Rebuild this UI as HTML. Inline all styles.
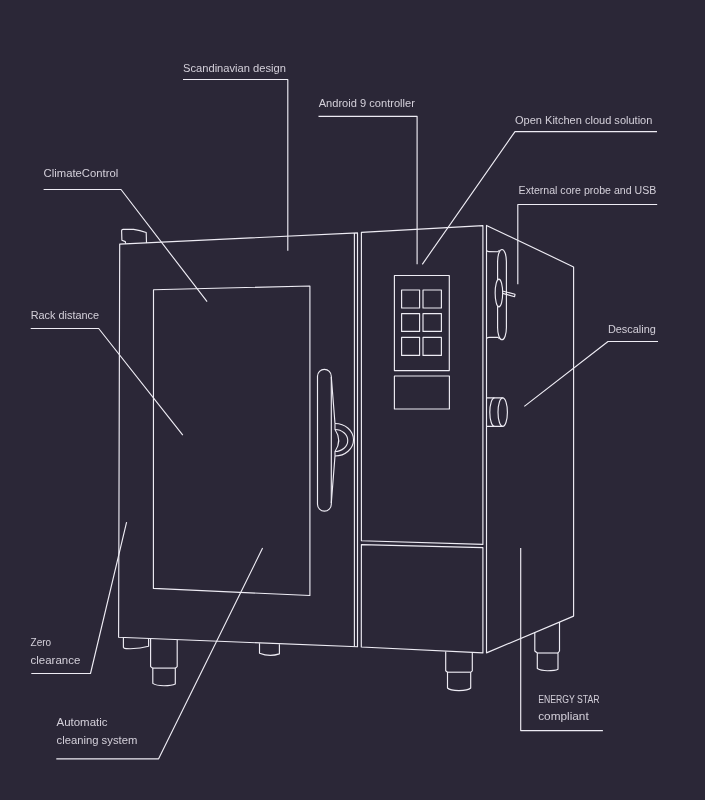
<!DOCTYPE html>
<html>
<head>
<meta charset="utf-8">
<style>
html,body{margin:0;padding:0;background:#2b2737;width:705px;height:800px;overflow:hidden;}
svg{position:absolute;left:0;top:0;display:block;}
.l{fill:none;stroke:#eeecf4;stroke-width:1.15;stroke-linejoin:round;stroke-linecap:butt;}
.t{font-family:"Liberation Sans",sans-serif;font-size:10px;fill:#d3cfd9;}
</style>
</head>
<body>
<svg width="705" height="800" viewBox="0 0 705 800">
<g class="l">
<!-- leader lines -->
<path d="M183,79.5 H287.8 V250.8"/>
<path d="M318.5,116.3 H417.1 V264.3"/>
<path d="M657,131.6 H515 L422.3,264.3"/>
<path d="M657.2,204.5 H517.8 V284.2"/>
<path d="M43.6,189.5 H121 L207.1,301.7"/>
<path d="M30.7,328.5 H98.7 L182.8,435.2"/>
<path d="M658,341.5 H608 L524.3,406.4"/>
<path d="M31.3,673.5 H90.5 L126.6,522.2"/>
<path d="M56.3,758.8 H158.6 L262.6,548.1"/>
<path d="M602.9,730.6 H520.7 V548.1"/>

<!-- door -->
<path d="M119.7,244.1 L357.5,232.9 V646.7 L118.6,637.3 Z"/>
<path d="M354.4,233.1 V646.6"/>
<path d="M153.5,289.7 L309.9,286 V595.5 L153.4,588.4 Z"/>
<path d="M125.6,243.7 L125.3,241.6 L121.9,240.2 L121.6,230.6 Q121.8,229.4 123,229.4 L133.6,229.4 Q140,230.4 146.2,232.5 L146.5,242.9"/>

<!-- handle -->
<path d="M317.5,376.2 A6.9,6.9 0 0 1 331.3,376.2 V504.2 A6.9,6.9 0 0 1 317.5,504.2 Z"/>
<path d="M331.3,377 L335,423.5 M335,456 L331.3,503"/>
<path d="M335,423.5 A18.5,16.25 0 0 1 335,456" style="stroke-width:1.1"/>
<path d="M335,429.5 A12.75,11 0 0 1 335,451.5" style="stroke-width:1.1"/>
<path d="M335,423.5 V429.5 Q342.5,440.5 335,451.5 V456" style="stroke-width:1.1"/>

<!-- control panel -->
<path d="M361.4,540.7 V232.4 L482.9,225.6 V544.4 Z"/>
<path d="M361.4,544.6 L482.9,547.6 V652.9 L361.3,647 Z"/>
<rect x="394.4" y="275.5" width="54.9" height="95.1"/>
<rect x="394.4" y="376" width="55" height="33"/>
<rect x="401.6" y="290" width="18" height="18"/>
<rect x="423" y="290" width="18.4" height="18"/>
<rect x="401.6" y="313.6" width="18" height="17.8"/>
<rect x="423" y="313.6" width="18.4" height="17.8"/>
<rect x="401.6" y="337.4" width="18" height="18"/>
<rect x="423" y="337.4" width="18.4" height="18"/>

<!-- side panel -->
<path d="M486.5,225.4 L573.6,266.9 V616.1 L486.5,652.9 Z"/>
<path d="M486.5,250.2 Q487,251.6 489,251.6 L497.6,251.7 Q498.6,251.5 499.5,250"/>
<path d="M486.5,338.7 Q487,337.3 489,337.3 L497.6,337.2 Q498.6,337.4 499.5,339"/>
<rect x="497.6" y="249.5" width="8.8" height="90.2" rx="4.4" ry="12"/>
<ellipse cx="498.9" cy="293" rx="3.75" ry="13.9" style="fill:#2b2737"/>
<path d="M502.4,291 L515,294.3 L514.6,296.7 L502.6,293.4"/>
<path d="M486.5,397.9 H502.7 M486.5,426.4 H502.7"/>
<ellipse cx="502.7" cy="412.15" rx="4.7" ry="14.25"/>
<path d="M494.5,397.9 A4.7,14.25 0 0 0 494.5,426.4"/>

<!-- feet -->
<path d="M123.4,637.6 V647.3 Q123.8,648.5 126,648.6 Q139,649.2 148.6,646.3 V638.7"/>
<path d="M150.6,638.8 V666.6 L152.8,668.2 V683.4 Q156,685.7 164,685.7 Q172,685.7 175.3,684 V668.2 L177.2,666.6 V640.1"/>
<path d="M152.8,668.1 H175.3"/>
<path d="M259.5,643.3 V653.2 Q269.5,657.2 279.4,653.9 V644.2"/>
<path d="M445.7,651.6 V670.8 L447.5,672.3 V688 Q450,690.6 459,690.6 Q468,690.6 470.7,688 V672.3 L472.3,670.8 V652.8"/>
<path d="M447.5,672.2 H470.7"/>
<path d="M534.8,632.5 V651 L537.3,653 V668.6 Q541,670.7 547.5,670.7 Q555,670.7 558,669.2 V653 L559.5,651 V622.1"/>
<path d="M537.3,653 H558"/>
</g>

<defs><filter id="gf" x="0" y="0" width="1" height="1"><feOffset dx="0" dy="0"/></filter></defs>
<g class="t" filter="url(#gf)">
<text x="183" y="72" textLength="103" lengthAdjust="spacingAndGlyphs">Scandinavian design</text>
<text x="318.7" y="107" textLength="96.2" lengthAdjust="spacingAndGlyphs">Android 9 controller</text>
<text x="515" y="124.3" textLength="137.4" lengthAdjust="spacingAndGlyphs">Open Kitchen cloud solution</text>
<text x="518.6" y="194.3" textLength="137.7" lengthAdjust="spacingAndGlyphs">External core probe and USB</text>
<text x="43.6" y="177.4" textLength="74.6" lengthAdjust="spacingAndGlyphs">ClimateControl</text>
<text x="30.7" y="319.1" textLength="68.4" lengthAdjust="spacingAndGlyphs">Rack distance</text>
<text x="607.9" y="333.2" textLength="48" lengthAdjust="spacingAndGlyphs">Descaling</text>
<text x="30.6" y="646.3" textLength="20.6" lengthAdjust="spacingAndGlyphs">Zero</text>
<text x="30.6" y="664" textLength="49.7" lengthAdjust="spacingAndGlyphs">clearance</text>
<text x="56.5" y="726" textLength="51" lengthAdjust="spacingAndGlyphs">Automatic</text>
<text x="56.5" y="743.9" textLength="80.8" lengthAdjust="spacingAndGlyphs">cleaning system</text>
<text x="538.2" y="703" textLength="61.3" lengthAdjust="spacingAndGlyphs">ENERGY STAR</text>
<text x="538.2" y="720" textLength="50.5" lengthAdjust="spacingAndGlyphs">compliant</text>
</g>
</svg>
</body>
</html>
